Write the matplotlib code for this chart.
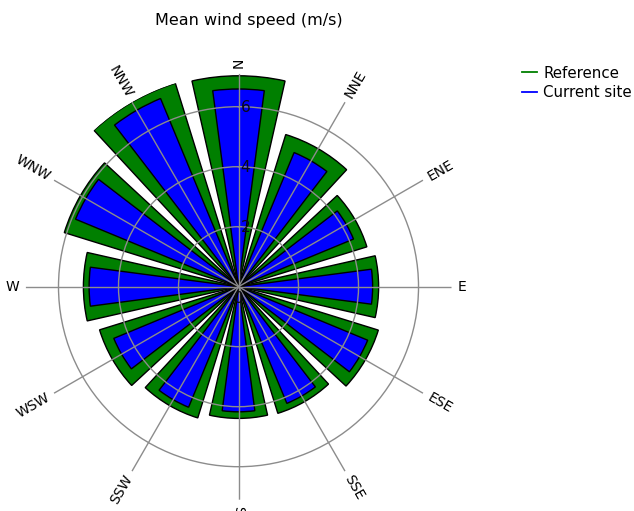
import numpy as np
import matplotlib
matplotlib.use("Agg")
import matplotlib.pyplot as plt
from matplotlib.lines import Line2D
from matplotlib.transforms import ScaledTranslation

directions = ["N", "NNE", "ENE", "E", "ESE", "SSE", "S", "SSW", "WSW", "W", "WNW", "NNW"]
angles_deg = [0, 30, 60, 90, 120, 150, 180, 210, 240, 270, 300, 330]
reference = [7.03, 5.31, 4.48, 4.67, 4.88, 4.42, 4.39, 4.58, 4.85, 5.17, 6.08, 7.10]
current = [6.59, 4.84, 4.15, 4.47, 4.66, 4.21, 4.17, 4.35, 4.50, 4.98, 5.88, 6.79]
radial_ticks = [0, 2, 4, 6]
series_names = ["Reference", "Current site"]
title = "Mean wind speed (m/s)"

plt.rcParams['font.family'] = ['DejaVu Sans']
fig = plt.figure(figsize=(6.34, 5.11), dpi=100)
ax = fig.add_axes([0.0402, 0.0221, 0.672, 0.8337], projection='polar')
ax.set_theta_zero_location('N')
ax.set_theta_direction(-1)
rmax = 7.1
ax.set_ylim(0, rmax)

theta = np.deg2rad(angles_deg)
step = np.deg2rad(30)
ax.bar(theta, reference, width=step * 0.85, color='#007f00', edgecolor='black', linewidth=1.0, zorder=1)
ax.bar(theta, current, width=step * 0.5, color='#0000ff', edgecolor='black', linewidth=1.0, zorder=2)

ax.set_xticks(theta)
ax.set_xticklabels([])
ax.set_yticks(radial_ticks[1:])
ax.set_yticklabels([])
ax.grid(True, color='#8c8c8c', linewidth=1.0)
ax.set_axisbelow(False)
for gl in ax.xaxis.get_gridlines() + ax.yaxis.get_gridlines():
    gl.set_zorder(3)
ax.spines['polar'].set_visible(False)
ax.tick_params(length=0)

for a, lab in zip(angles_deg, directions):
    rot = 90 - a
    if rot < -90:
        rot += 180
        ha = 'right'
    else:
        ha = 'left'
    ax.text(np.deg2rad(a), 7.3, lab, rotation=rot, rotation_mode='anchor',
            ha=ha, va='center', fontsize=10, color='black', clip_on=False)

for r in radial_ticks:
    if r == 0:
        off = ScaledTranslation(0, -12 / 100, fig.dpi_scale_trans)
    else:
        off = ScaledTranslation(7 / 100, -1 / 100, fig.dpi_scale_trans)
    ax.text(0, r, str(r), transform=ax.transData + off, ha='center', va='center',
            fontsize=11, color='#0a0a14', zorder=5)

fig.text(248.5 / 634, 1 - 20 / 511, title, ha='center', va='center', fontsize=11.5)

handles = [Line2D([0], [0], color='#007f00', lw=1.3), Line2D([0], [0], color='#0000ff', lw=1.3)]
fig.legend(handles, series_names, loc='upper left', bbox_to_anchor=(508 / 634, 1 - 52 / 511),
           frameon=False, fontsize=10.8, handlelength=1.0, handletextpad=0.45, labelspacing=0.3)

fig.savefig('out.png', dpi=100)
